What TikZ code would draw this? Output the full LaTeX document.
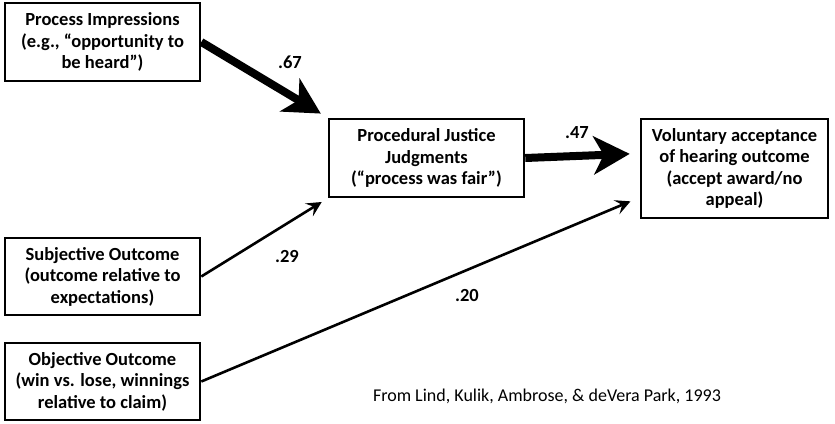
\documentclass[tikz,border=0pt]{standalone}
\usepackage{fontspec}
\setmainfont{Carlito}
\usepackage{tikz}
\usetikzlibrary{shapes,arrows.meta}

\tikzset{
  factor/.style={draw, line width=2.6pt, align=center, inner sep=2pt,
    font=\fontsize{18.5}{21.5}\selectfont\bfseries},
  weight/.style={font=\fontsize{18.5}{21}\selectfont\bfseries},
  thinpath/.style={line width=2.6pt, -{Stealth[length=15pt,width=15pt,inset=6pt]}},
  thickpath/.style={line width=8pt, -{Stealth[length=36pt,width=38pt,inset=10pt]}}
}

\begin{document}
\begin{tikzpicture}[x=1pt,y=-1pt]
  \useasboundingbox (0,0) rectangle (835,423);
  \node[factor, minimum width=195pt, minimum height=78pt] (pi) at (102.5,42)
    {Process Impressions\\(e.g., “opportunity to\\be heard”)}; % process box
  \node[factor, minimum width=195pt, minimum height=77pt] (so) at (102.5,276.5)
    {Subjective Outcome\\(outcome relative to\\expectations)};
  \node[factor, minimum width=195pt, minimum height=77pt] (oo) at (102.5,381.5)
    {Objective Outcome\\(win vs. lose, winnings\\relative to claim)};
  \node[factor, minimum width=195pt, minimum height=78pt] (pj) at (426.5,158)
    {Procedural Justice\\Judgments\\(“process was fair”)}; % judgments
  \node[factor, minimum width=187pt, minimum height=99pt] (va) at (734.5,168.5)
    {Voluntary acceptance\\of hearing outcome\\(accept award/no\\appeal)}; % outcome
  \draw[thickpath, shorten >=8pt] (pi.east) -- (pj.north west); % .67 path
  \node[weight] (w1) at (290,62) {.67};
  \draw[thinpath, shorten >=7pt] (so.east) -- (pj.south west); % .29 path
  \node[weight] (w2) at (287,256) {.29};
  \draw[thickpath, shorten >=10pt] (pj.east) -- (va.171); % .47 path
  \node[weight] (w3) at (577,133) {.47};
  \draw[thinpath, shorten >=10pt] (oo.east) -- (va.197); % .20 path
  \node[weight] (w4) at (467,295) {.20};
  \node[font=\fontsize{18}{21}\selectfont] (src) at (547,396)
    {From Lind, Kulik, Ambrose, \& deVera Park, 1993};
\end{tikzpicture}
\end{document}
